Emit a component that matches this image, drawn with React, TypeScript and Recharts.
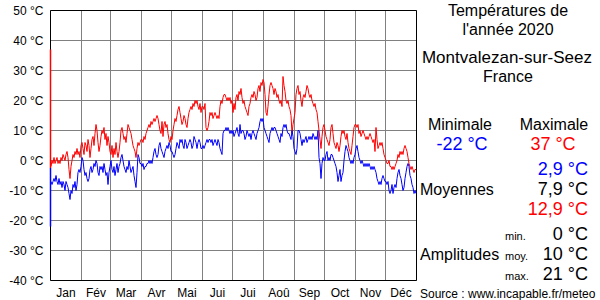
import { LineChart, Line, XAxis, YAxis, CartesianGrid, ReferenceLine } from "recharts";

// noms des mois et nombre de jours (2020 = bissextile)
const months = ["Jan", "Fév", "Mar", "Avr", "Mai", "Jui", "Jui", "Aoû", "Sep", "Oct", "Nov", "Déc"];
const monthDays = [31, 29, 31, 30, 31, 30, 31, 31, 30, 31, 30, 31];
const yTicks = [-40, -30, -20, -10, 0, 10, 20, 30, 40, 50];

// températures maximales journalières (une ligne par mois)
const tmax = [
  -2, 0, -1, 1, -1, 0, 1, -1, 0, -1, 1, 0, 2, 1, 0, 2, 3, 1, -3, -6, -2, 0, 2, 1, 3, 2, 4, 2, 3, 1, 5,
  6, 4, 2, 6, 5, 3, 7, 5, 1, 4, 7, 8, 5, 9, 12, 10, 6, 3, 5, 8, 10, 9, 11, 7, 9, 5, 8, 6, 3,
  2, 5, 1, 4, 2, 6, 3, 1, 3, 6, 10, 11, 9, 7, 8, 6, 9, 12, 11, 10, 9, 7, 5, 4, 3, 1, 4, 6, 5, 6, 7,
  7, 6, 8, 7, 9, 10, 11, 12, 11, 13, 12, 13, 14, 13, 14, 15, 14, 12, 10, 9, 13, 8, 12, 13, 11, 12, 9, 7, 6, 8,
  7, 10, 12, 14, 13, 15, 17, 18, 16, 14, 12, 13, 15, 14, 12, 11, 14, 16, 17, 18, 17, 19, 18, 20, 19, 20, 18, 17, 19, 16, 18,
  18, 17, 19, 11, 10, 11, 13, 16, 15, 16, 14, 15, 16, 15, 14, 15, 14, 18, 20, 19, 21, 22, 22, 21, 20, 21, 20, 21, 19, 20,
  16, 19, 17, 21, 22, 20, 23, 22, 24, 21, 19, 20, 18, 17, 16, 15, 18, 19, 21, 22, 21, 23, 22, 20, 21, 24, 25, 23, 26, 25, 27,
  26, 22, 16, 15, 18, 22, 25, 26, 25, 24, 22, 24, 23, 21, 22, 20, 19, 20, 18, 28, 25, 23, 20, 19, 20, 18, 17, 15, 9, 12, 14,
  16, 22, 24, 25, 22, 23, 20, 18, 21, 22, 21, 23, 25, 24, 22, 21, 22, 20, 19, 18, 19, 17, 16, 13, 10, 7, 4, 8, 11, 12,
  10, 8, 7, 6, 5, 7, 11, 12, 9, 6, 5, 4, 6, 5, 3, 5, 8, 10, 9, 10, 8, 7, 9, 6, 4, 3, 2, 5, 8, 11, 12,
  12, 11, 12, 9, 10, 8, 9, 10, 9, 8, 7, 8, 7, 8, 9, 8, 7, 6, 7, 3, 11, 7, 4, 5, 6, 5, 6, 4, 2, 1,
  0, -1, -1, 0, -2, -2, -3, -2, -3, -2, -1, 0, 2, 1, 3, 2, 3, 2, 4, 5, 4, 3, 1, -1, -2, -3, -2, -3, -4, -3, -3,
];

// températures minimales journalières
const tmin = [
  -7, -8, -7, -6, -7, -5, -7, -8, -6, -8, -7, -9, -7, -8, -10, -7, -8, -9, -11, -13, -10, -11, -8, -9, -7, -10, -8, -4, -3, -4, -2,
  1, 0, -3, -5, -4, -6, -7, -6, -3, -2, -4, -3, -1, -2, 0, -1, -4, -5, -2, -3, -2, -4, -1, -3, -5, -4, -8, -4, -2,
  0, -3, -4, -2, -5, -3, -1, -4, -2, -1, 1, 2, 0, -2, -3, -4, -2, -3, 0, -2, -4, -3, -2, -5, -7, -9, -4, 2, 1, -1, -1,
  -2, -1, -3, -2, -2, -1, -1, 0, -1, 0, -1, 1, 3, 4, 2, 1, 2, 5, 6, 4, 3, 2, 1, 3, 4, 5, 4, 6, 5, 3,
  3, 2, 1, 2, 4, 6, 5, 4, 7, 6, 7, 5, 4, 7, 6, 4, 5, 6, 7, 6, 4, 5, 8, 7, 6, 4, 6, 7, 6, 4, 4,
  5, 4, 5, 6, 7, 6, 7, 7, 6, 7, 5, 6, 7, 6, 5, 7, 6, 4, 3, 2, 9, 10, 10, 11, 10, 11, 10, 9, 10, 9,
  10, 8, 9, 10, 11, 9, 8, 12, 9, 10, 10, 9, 7, 8, 10, 9, 8, 9, 7, 9, 10, 9, 8, 7, 9, 10, 11, 13, 14, 13, 14,
  11, 10, 9, 8, 7, 6, 9, 10, 11, 10, 11, 11, 10, 9, 8, 7, 6, 9, 8, 11, 12, 11, 12, 10, 9, 9, 8, 7, 10, 8, 4,
  3, 2, 4, 10, 10, 9, 7, 5, 7, 6, 7, 8, 6, 7, 8, 7, 8, 7, 9, 8, 7, 8, 7, 10, 1, -1, -6, -1, 1, 0,
  0, 2, 3, 0, 1, 0, 2, 2, 1, 0, -1, -2, -4, -7, -5, -3, -7, -5, -4, 0, 3, 5, 4, 3, 1, 0, -1, 0, -1, 1, 2,
  4, 5, 3, 1, 0, -1, 0, -1, -2, -1, -2, -1, -2, -1, -2, -3, -2, -3, -2, -3, -4, -6, -7, -8, -7, -8, -6, -5, -6, -7,
  -7, -8, -7, -10, -11, -10, -8, -11, -9, -8, -9, -6, -4, -3, -5, -6, -8, -10, -9, -6, -4, -2, -1, -2, -5, -6, -8, -9, -11, -10, -11,
];

// extrêmes de l'année (trait coloré sur l'axe)
const recordMax = 37;
const recordMin = -22;
const firstDay = -2.5;

const data = tmax.map((v, i) => ({ d: i + 0.5, max: v, min: tmin[i] }));

// limites et milieux des mois, en jours
const bounds: number[] = [];
const centers: number[] = [];
let acc = 0;
monthDays.forEach((n) => {
  centers.push(acc + n / 2);
  acc += n;
  bounds.push(acc);
});

const font = "'Liberation Sans', Arial, sans-serif";

export default function App() {
  return (
    <div style={{ position: "absolute", left: 0, top: 0, width: 600, height: 300, background: "#fff", fontFamily: font }}>
      <LineChart
        width={600}
        height={300}
        data={data}
        margin={{ top: 10.5, right: 183.5, bottom: 0, left: 0.5 }}
      >
        <CartesianGrid vertical={false} stroke="#808080" />
        {bounds.slice(0, -1).map((b) => (
          <ReferenceLine key={b} x={b} stroke="#808080" />
        ))}
        <XAxis
          type="number"
          dataKey="d"
          domain={[0, 366]}
          ticks={centers}
          interval={0}
          tickFormatter={(v) => months[centers.indexOf(v)]}
          tickLine={false}
          axisLine={false}
          height={19.5}
          tick={{ fontSize: 12, fill: "#000", fontFamily: font }}
        />
        <YAxis
          type="number"
          domain={[-40, 50]}
          ticks={yTicks}
          interval={0}
          tickFormatter={(v) => `${v} °C`}
          tickLine={false}
          tickMargin={1}
          axisLine={false}
          width={50}
          tick={{ fontSize: 12, fill: "#000", fontFamily: font }}
        />
        {/* cadre noir */}
        <ReferenceLine y={50} stroke="#000" />
        <ReferenceLine y={-40} stroke="#000" />
        <ReferenceLine x={366} stroke="#000" />
        <ReferenceLine x={0} stroke="#000" />
        <ReferenceLine segment={[{ x: 0, y: recordMax }, { x: 0, y: firstDay }]} stroke="#ff0000" strokeWidth={1.5} />
        <ReferenceLine segment={[{ x: 0, y: firstDay }, { x: 0, y: recordMin }]} stroke="#0000ff" strokeWidth={1.5} />
        <Line type="linear" dataKey="max" stroke="#ff0000" strokeWidth={1} dot={false} isAnimationActive={false} />
        <Line type="linear" dataKey="min" stroke="#0000ff" strokeWidth={1} dot={false} isAnimationActive={false} />
      </LineChart>

      <svg width={600} height={300} style={{ position: "absolute", left: 0, top: 0 }} fontFamily={font}>
        <g fontSize={16} fill="#000" textAnchor="middle">
          <text x={508} y={16}>Températures de</text>
          <text x={508} y={34.5}>l'année 2020</text>
          <text x={507} y={62.5} fontSize={17}>Montvalezan-sur-Seez</text>
          <text x={508} y={81.5}>France</text>
          <text x={460} y={130}>Minimale</text>
          <text x={554} y={130}>Maximale</text>
          <text x={462} y={149.5} fontSize={18} fill="#0000ff">-22 °C</text>
          <text x={553} y={149.5} fontSize={18} fill="#ff0000">37 °C</text>
        </g>
        <g fontSize={18} textAnchor="end">
          <text x={588} y={175} fill="#0000ff">2,9 °C</text>
          <text x={588} y={195} fill="#000">7,9 °C</text>
          <text x={588} y={215} fill="#ff0000">12,9 °C</text>
          <text x={588} y={240} fill="#000">0 °C</text>
          <text x={588} y={260} fill="#000">10 °C</text>
          <text x={588} y={280} fill="#000">21 °C</text>
        </g>
        <g fontSize={16} fill="#000">
          <text x={420} y={195}>Moyennes</text>
          <text x={420} y={260}>Amplitudes</text>
        </g>
        <g fontSize={11} fill="#000">
          <text x={505} y={240}>min.</text>
          <text x={505} y={260}>moy.</text>
          <text x={505} y={280}>max.</text>
        </g>
        <text x={420} y={298} fontSize={12} fill="#000">Source : www.incapable.fr/meteo</text>
      </svg>
    </div>
  );
}
